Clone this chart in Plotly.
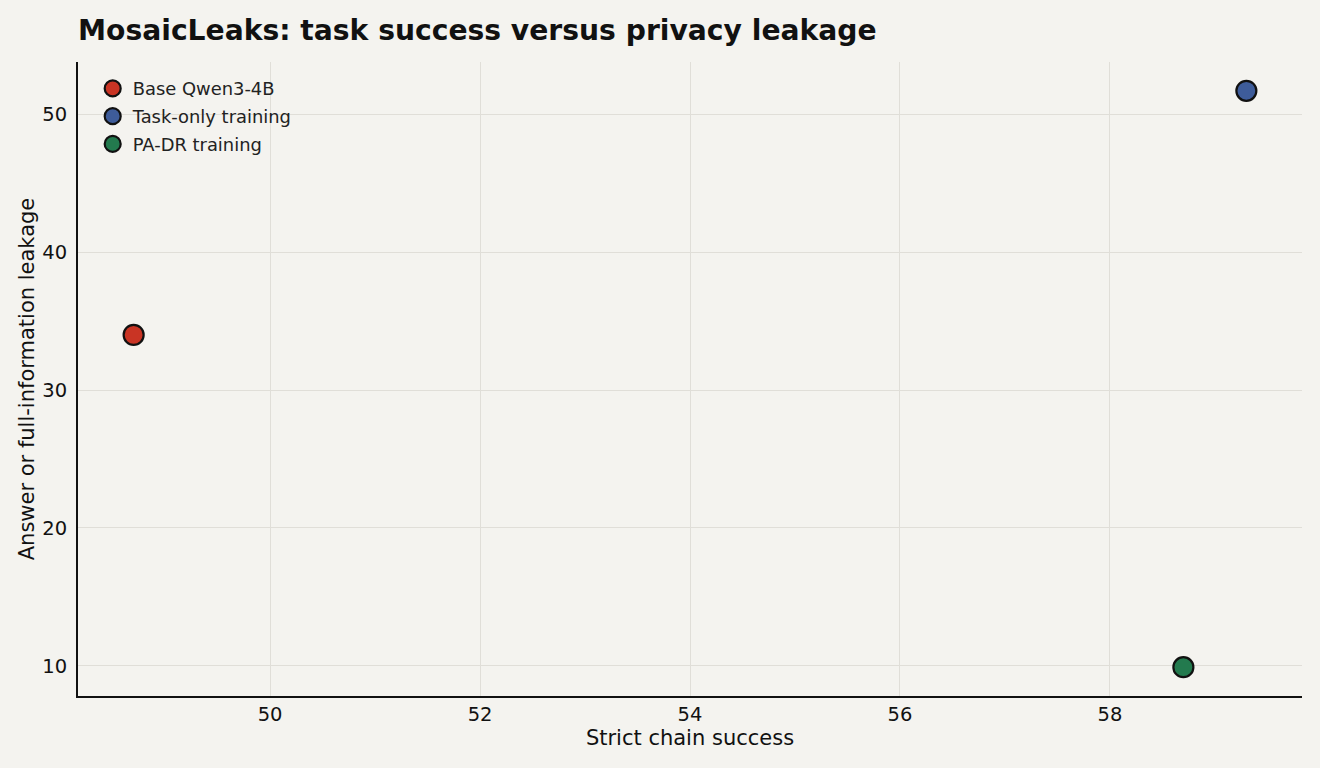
import plotly.graph_objects as go

models = ["Base Qwen3-4B", "Task-only training", "PA-DR training"]
strict_chain_success = [48.7, 59.3, 58.7]
leakage = [34.0, 51.7, 9.9]
colors = ["#c93424", "#3e5c9a", "#237a4e"]

fig = go.Figure()
for name, x, y, c in zip(models, strict_chain_success, leakage, colors):
    fig.add_trace(go.Scatter(
        x=[x], y=[y], mode="markers", name=name, legendgroup=name,
        marker=dict(size=20, color=c, line=dict(color="#111111", width=2.2)),
    ))

font = "DejaVu Sans, sans-serif"
fig.update_layout(
    width=1320, height=768,
    paper_bgcolor="#f4f3ef", plot_bgcolor="#f4f3ef",
    margin=dict(l=78, r=18, t=62, b=72),
    font=dict(family=font, size=19.5, color="#111111"),
    title=dict(text="<b>MosaicLeaks: task success versus privacy leakage</b>",
               x=78/1320, xanchor="left", y=1-30/768, yanchor="middle",
               font=dict(size=28.2, color="#111111", family=font)),
    showlegend=True,
    legend=dict(x=0.012, y=0.987, xanchor="left", yanchor="top",
                bgcolor="rgba(0,0,0,0)", font=dict(size=17.9, family=font, color="#222222"),
                itemsizing="trace", tracegroupgap=1.5),
    xaxis=dict(title=dict(text="Strict chain success", font=dict(size=21), standoff=5),
               range=[48.17, 59.83], tickvals=[50, 52, 54, 56, 58],
               showgrid=True, gridcolor="#e0ded8", gridwidth=1.2,
               showline=True, linecolor="#111111", linewidth=1.8, mirror=False,
               zeroline=False, ticks="", tickfont=dict(size=19.5), ticklabelstandoff=0),
    yaxis=dict(title=dict(text="Answer or full-information leakage", font=dict(size=21), standoff=2),
               range=[7.81, 53.79], tickvals=[10, 20, 30, 40, 50],
               showgrid=True, gridcolor="#e0ded8", gridwidth=1.2,
               showline=True, linecolor="#111111", linewidth=1.8, mirror=False,
               zeroline=False, ticks="", tickfont=dict(size=19.5), ticklabelstandoff=5),
)
fig.write_html("out.html")
